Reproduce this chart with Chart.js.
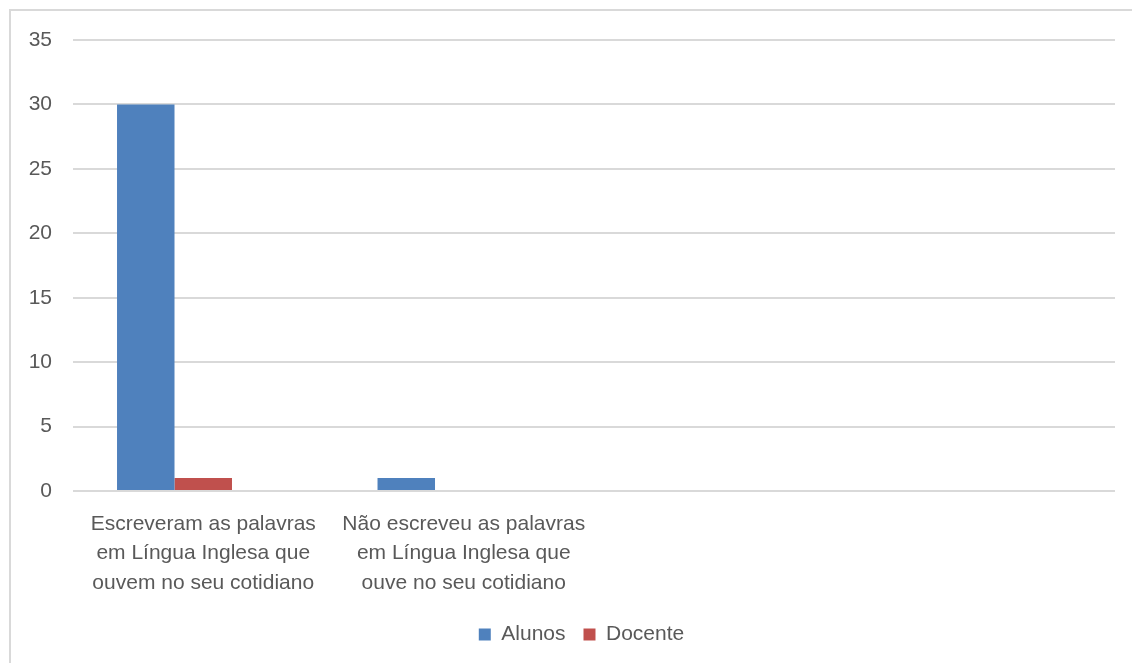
<!DOCTYPE html>
<html>
<head>
<meta charset="utf-8">
<script src="https://cdn.jsdelivr.net/npm/chart.js@4"></script>
<style>
  html, body { margin: 0; padding: 0; background: #ffffff; }
  #wrap { position: relative; width: 1132px; height: 663px; overflow: hidden; }
  #frame { position: absolute; left: 9px; top: 9px; width: 1140px; height: 680px;
           border: 2px solid #d9d9d9; box-sizing: border-box; }
  #c { position: absolute; left: 0; top: 0; }
</style>
</head>
<body>
<div id="wrap">
  <div id="frame"></div>
  <canvas id="c" width="1132" height="663"></canvas>
</div>
<script>
// Categories (the last two columns of the worksheet are empty)
const categories = [
  ['Escreveram as palavras', 'em Língua Inglesa que', 'ouvem no seu cotidiano'],
  ['Não escreveu as palavras', 'em Língua Inglesa que', 'ouve no seu cotidiano'],
  '',
  ''
];
const alunos  = [30, 1, null, null];
const docente = [1, 0, null, null];
// third series column in the sheet holds no values
const vazio   = [null, null, null, null];
const yTicks  = [0, 5, 10, 15, 20, 25, 30, 35];

const textColor = '#595959';
const gridColor = '#d9d9d9';
const fontFamily = '"Liberation Sans", Arial, sans-serif';

// The chart frame runs past the right edge, so the legend sits centred on the wider frame
const legendShift = {
  id: 'legendShift',
  beforeDraw(chart) {
    const lg = chart.legend;
    if (lg && !lg._shifted) {
      lg.left += 24; lg.right += 24;
      lg._shifted = true;
    }
  }
};

new Chart(document.getElementById('c'), {
  type: 'bar',
  data: {
    labels: categories,
    datasets: [
      { label: 'Alunos',  data: alunos,  backgroundColor: '#4f81bd', borderWidth: 0 },
      { label: 'Docente', data: docente, backgroundColor: '#c0504d', borderWidth: 0 },
      { label: '',        data: vazio,   backgroundColor: '#9bbb59', borderWidth: 0 }
    ]
  },
  plugins: [legendShift],
  options: {
    responsive: false,
    animation: false,
    devicePixelRatio: 1,
    layout: { padding: { left: 0, right: 17, top: 40, bottom: 8 } },
    datasets: { bar: { categoryPercentage: 0.662, barPercentage: 1.0 } },
    plugins: {
      legend: {
        position: 'bottom',
        labels: {
          color: textColor,
          font: { family: fontFamily, size: 21 },
          boxWidth: 12,
          boxHeight: 12,
          padding: 18,
          filter: (item) => item.text !== ''
        }
      },
      tooltip: { enabled: false }
    },
    scales: {
      x: {
        grid: { display: false, drawTicks: false },
        border: { display: false },
        ticks: {
          color: textColor,
          font: { family: fontFamily, size: 21, lineHeight: 1.41 },
          padding: 18,
          maxRotation: 0,
          autoSkip: false
        },
        afterFit: (s) => { s.height = 115; }
      },
      y: {
        min: 0,
        max: 35,
        afterBuildTicks: (s) => { s.ticks = yTicks.map(v => ({ value: v })); },
        grid: { color: gridColor, lineWidth: 2, drawTicks: false },
        border: { display: false },
        ticks: {
          color: textColor,
          font: { family: fontFamily, size: 21 },
          padding: 21
        },
        afterFit: (s) => { s.width = 73; }
      }
    }
  }
});
</script>
</body>
</html>
